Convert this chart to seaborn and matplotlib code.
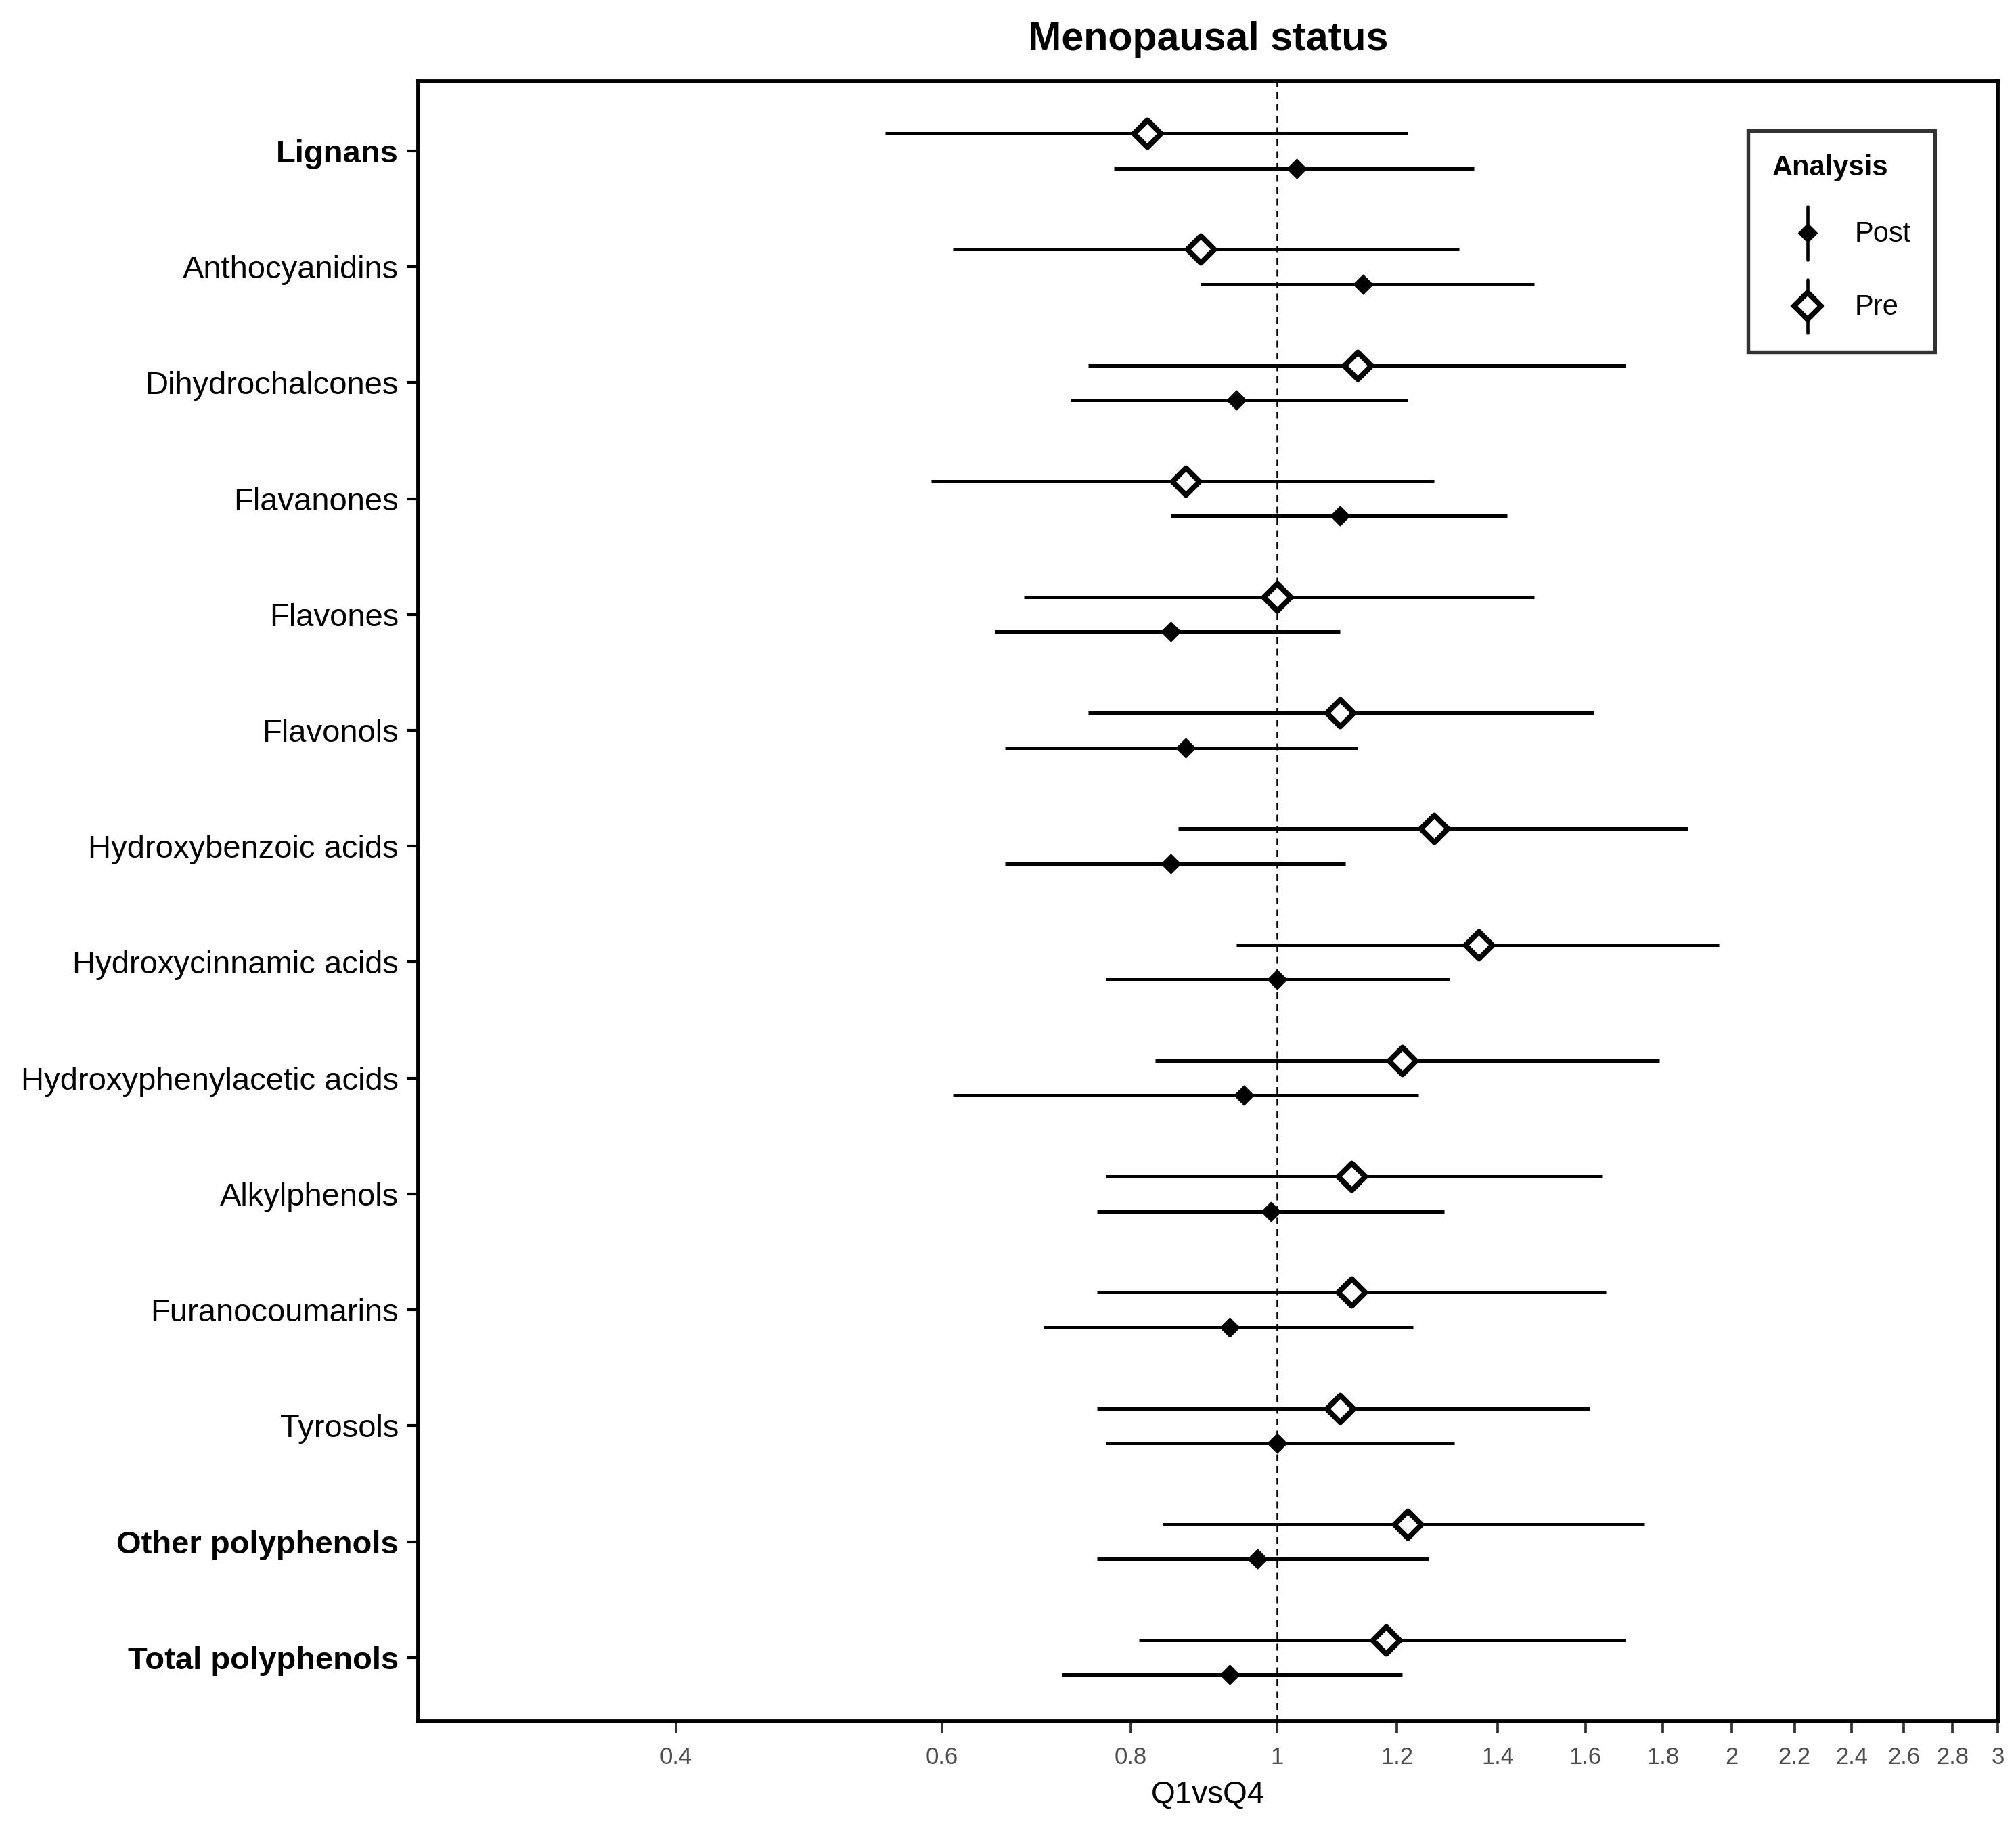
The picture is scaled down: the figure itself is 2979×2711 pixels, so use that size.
import matplotlib
matplotlib.use("Agg")
import matplotlib.pyplot as plt
from matplotlib.lines import Line2D
from matplotlib.legend_handler import HandlerBase
from matplotlib.ticker import FixedLocator, NullLocator
import numpy as np
import pandas as pd
import seaborn as sns

categories = ["Lignans", "Anthocyanidins", "Dihydrochalcones", "Flavanones", "Flavones",
              "Flavonols", "Hydroxybenzoic acids", "Hydroxycinnamic acids",
              "Hydroxyphenylacetic acids", "Alkylphenols", "Furanocoumarins", "Tyrosols",
              "Other polyphenols", "Total polyphenols"]
bold_categories = ["Lignans", "Other polyphenols", "Total polyphenols"]

pre_est = [0.82, 0.89, 1.13, 0.87, 1.00, 1.10, 1.27, 1.36, 1.21, 1.12, 1.12, 1.10, 1.22, 1.18]
pre_lo = [0.55, 0.61, 0.75, 0.59, 0.68, 0.75, 0.86, 0.94, 0.83, 0.77, 0.76, 0.76, 0.84, 0.81]
pre_hi = [1.22, 1.32, 1.70, 1.27, 1.48, 1.62, 1.87, 1.96, 1.79, 1.64, 1.65, 1.61, 1.75, 1.70]

post_est = [1.03, 1.14, 0.94, 1.10, 0.85, 0.87, 0.85, 1.00, 0.95, 0.99, 0.93, 1.00, 0.97, 0.93]
post_lo = [0.78, 0.89, 0.73, 0.85, 0.65, 0.66, 0.66, 0.77, 0.61, 0.76, 0.70, 0.77, 0.76, 0.72]
post_hi = [1.35, 1.48, 1.22, 1.42, 1.10, 1.13, 1.11, 1.30, 1.24, 1.29, 1.23, 1.31, 1.26, 1.21]

xticks = [0.4, 0.6, 0.8, 1, 1.2, 1.4, 1.6, 1.8, 2, 2.2, 2.4, 2.6, 2.8, 3]
xtick_labels = ["0.4", "0.6", "0.8", "1", "1.2", "1.4", "1.6", "1.8", "2", "2.2", "2.4", "2.6", "2.8", "3"]

sns.set_theme(style="white")
plt.rcParams['font.family'] = ['Liberation Sans', 'DejaVu Sans']
plt.rcParams['text.color'] = 'black'
plt.rcParams['axes.labelcolor'] = 'black'

n = len(categories)
idx = np.arange(n)
offset = 0.15
df = pd.concat([
    pd.DataFrame({"cat": categories, "y": idx - offset, "est": pre_est, "lo": pre_lo,
                  "hi": pre_hi, "Analysis": "Pre"}),
    pd.DataFrame({"cat": categories, "y": idx + offset, "est": post_est, "lo": post_lo,
                  "hi": post_hi, "Analysis": "Post"}),
], ignore_index=True)

fig = plt.figure(figsize=(2979 / 300, 2711 / 300), dpi=300)
ax = fig.add_axes([0.2075, 0.062, 0.991 - 0.2075, 0.9557 - 0.062])
ax.set_xscale("log")

ax.axvline(1, color="black", lw=0.6, ls=(0, (4, 3)), zorder=1)

for grp in ["Pre", "Post"]:
    d = df[df["Analysis"] == grp]
    ax.hlines(d["y"], d["lo"], d["hi"], color="black", lw=1.2, zorder=2)

pre_df = df[df["Analysis"] == "Pre"]
post_df = df[df["Analysis"] == "Post"]
sns.scatterplot(data=pre_df, x="est", y="y", marker="D", s=46, color="white",
                edgecolor="black", linewidth=1.9, ax=ax, zorder=3, legend=False)
sns.scatterplot(data=post_df, x="est", y="y", marker="D", s=24, color="black",
                edgecolor="black", linewidth=0.3, ax=ax, zorder=3, legend=False)

ax.set_xlim(0.27, 3)
ax.set_ylim(n - 1 + 0.55, -0.6)
ax.xaxis.set_major_locator(FixedLocator(xticks))
ax.xaxis.set_minor_locator(NullLocator())
ax.set_xticklabels(xtick_labels)
ax.set_yticks(idx)
ax.set_yticklabels(categories)
for lab in ax.get_yticklabels():
    lab.set_fontsize(11.3)
    lab.set_color("black")
    if lab.get_text() in bold_categories:
        lab.set_fontweight("bold")
for lab in ax.get_xticklabels():
    lab.set_fontsize(8.3)
    lab.set_color("#4D4D4D")

ax.tick_params(axis="y", which="major", left=True, length=4, width=1.0, color="black", pad=3)
ax.tick_params(axis="x", which="major", bottom=True, length=4, width=0.9, color="#333333", pad=5)
for sp in ax.spines.values():
    sp.set_visible(True)
    sp.set_color("black")
    sp.set_linewidth(1.4)

ax.set_xlabel("Q1vsQ4", fontsize=11, labelpad=4, color="black")
ax.set_ylabel("")
ax.set_title("Menopausal status", fontsize=14.2, fontweight="bold", pad=11, color="black")


class VHandler(HandlerBase):
    def create_artists(self, legend, orig_handle, xdescent, ydescent, width, height,
                       fontsize, trans):
        cx = width / 2 - xdescent
        cy = height / 2 - ydescent
        half = 9.5
        line = Line2D([cx, cx], [cy - half, cy + half], color="black", lw=1.1)
        mk = Line2D([cx], [cy], marker=orig_handle.get_marker(),
                    markersize=orig_handle.get_markersize(),
                    markerfacecolor=orig_handle.get_markerfacecolor(),
                    markeredgecolor=orig_handle.get_markeredgecolor(),
                    markeredgewidth=orig_handle.get_markeredgewidth(), ls="none")
        line.set_transform(trans)
        mk.set_transform(trans)
        return [line, mk]


h_post = Line2D([], [], marker="D", markersize=4.9, markerfacecolor="black",
                markeredgecolor="black", markeredgewidth=0.3, ls="none")
h_pre = Line2D([], [], marker="D", markersize=6.8, markerfacecolor="white",
               markeredgecolor="black", markeredgewidth=1.9, ls="none")
leg = ax.legend([h_post, h_pre], ["Post", "Pre"], title="Analysis",
                handler_map={Line2D: VHandler()}, loc="upper right",
                bbox_to_anchor=(0.960, 0.970), frameon=True, fancybox=False,
                edgecolor="black", fontsize=10, title_fontproperties={"weight": "bold", "size": 10},
                handlelength=2.5, handleheight=2.0, labelspacing=1.05, handletextpad=0.42,
                borderpad=0.85, alignment="left", borderaxespad=0)
leg.get_frame().set_linewidth(1.3)

fig.savefig("out.png", dpi=300)
